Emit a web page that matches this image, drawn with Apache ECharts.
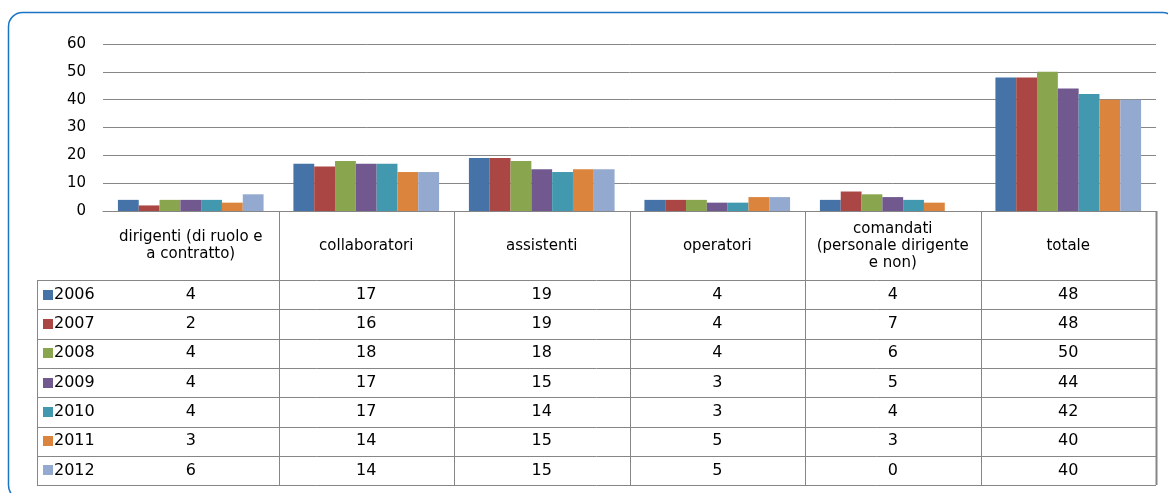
<!DOCTYPE html>
<html>
<head>
<meta charset="utf-8">
<script src="https://cdn.jsdelivr.net/npm/echarts@6/dist/echarts.min.js"></script>
<style>
html,body{margin:0;padding:0;background:#fff;}
#main{width:1168px;height:493px;}
</style>
</head>
<body>
<div id="main"></div>
<script>
// ---- data ----
var categories = ['dirigenti (di ruolo e a contratto)', 'collaboratori', 'assistenti', 'operatori', 'comandati (personale dirigente e non)', 'totale'];
var headerLabels = ['dirigenti (di ruolo e\na contratto)', 'collaboratori', 'assistenti', 'operatori', 'comandati\n(personale dirigente\ne non)', 'totale'];
var years = ['2006', '2007', '2008', '2009', '2010', '2011', '2012'];
var v2006 = [4, 17, 19, 4, 4, 48];
var v2007 = [2, 16, 19, 4, 7, 48];
var v2008 = [4, 18, 18, 4, 6, 50];
var v2009 = [4, 17, 15, 3, 5, 44];
var v2010 = [4, 17, 14, 3, 4, 42];
var v2011 = [3, 14, 15, 5, 3, 40];
var v2012 = [6, 14, 15, 5, 0, 40];
var yTicks = [0, 10, 20, 30, 40, 50, 60];

var seriesValues = [v2006, v2007, v2008, v2009, v2010, v2011, v2012];
var colors = ['#4572A7', '#AA4643', '#89A54E', '#71588F', '#4198AF', '#DB843D', '#93A9CF'];

var FONT = 'DejaVu Sans';
var chart = echarts.init(document.getElementById('main'), null, {renderer: 'canvas'});

var series = years.map(function (y, i) {
  return {
    name: y, type: 'bar', data: seriesValues[i],
    itemStyle: {color: colors[i]},
    barGap: '0%', barCategoryGap: '17%', animation: false
  };
});

chart.setOption({
  animation: false,
  grid: {left: 103, right: 12, top: 44, bottom: 282, containLabel: false},
  xAxis: {
    type: 'category', data: categories,
    axisLine: {lineStyle: {color: '#868686', width: 1}},
    axisTick: {show: false},
    axisLabel: {
      interval: 0, margin: 35, verticalAlign: 'middle',
      color: '#000', fontFamily: FONT, fontSize: 15, lineHeight: 17,
      formatter: function (v, idx) { return headerLabels[idx]; }
    }
  },
  yAxis: {
    type: 'value', min: yTicks[0], max: yTicks[yTicks.length - 1], interval: 10,
    axisLine: {show: false}, axisTick: {show: false},
    splitLine: {lineStyle: {color: '#868686', width: 1}},
    axisLabel: {color: '#000', fontFamily: FONT, fontSize: 15, margin: 17}
  },
  series: series
});

// ---- table built from the axis scale ----
var centers = categories.map(function (c) { return chart.convertToPixel({xAxisIndex: 0}, c); });
var band = centers[1] - centers[0];
var y0 = chart.convertToPixel({yAxisIndex: 0}, 0);
var headerH = 69;
var rowH = 29.3;
var tableTop = y0 + headerH;
var tableLeft = 37;
var leftEdge = centers[0] - band / 2;
var rightEdge = centers[centers.length - 1] + band / 2;
var tableBottom = tableTop + rowH * years.length;
var lineColor = '#868686';
var g = [];

// outer rounded border (right and bottom edges fall just outside the picture)
g.push({type: 'rect', shape: {x: 8.5, y: 12.5, width: 1168, height: 487, r: 14},
  style: {fill: null, stroke: '#1B75C4', lineWidth: 1.5}, silent: true, z: 0});

// horizontal lines
for (var r = 0; r <= years.length; r++) {
  var yy = Math.round(tableTop + r * rowH) + 0.5;
  g.push({type: 'line', shape: {x1: tableLeft, y1: yy, x2: rightEdge, y2: yy},
    style: {stroke: lineColor, lineWidth: 1}, silent: true});
}
// vertical lines: category boundaries
for (var c = 1; c <= categories.length; c++) {
  var xx = Math.round(leftEdge + c * band) + 0.5;
  g.push({type: 'line', shape: {x1: xx, y1: y0, x2: xx, y2: tableBottom},
    style: {stroke: lineColor, lineWidth: c === categories.length ? 2 : 1}, silent: true});
}
// table left border
g.push({type: 'line', shape: {x1: tableLeft + 0.5, y1: tableTop, x2: tableLeft + 0.5, y2: tableBottom},
  style: {stroke: lineColor, lineWidth: 1}, silent: true});

// legend keys + values
years.forEach(function (yr, i) {
  var cy = tableTop + rowH * i + rowH / 2;
  g.push({type: 'rect', shape: {x: tableLeft + 6, y: Math.round(cy) - 5, width: 10, height: 10},
    style: {fill: colors[i]}, silent: true});
  g.push({type: 'text', x: tableLeft + 17, y: cy,
    style: {text: yr, fill: '#000', font: '16px "' + FONT + '"', textVerticalAlign: 'middle', textAlign: 'left'}, silent: true});
  seriesValues[i].forEach(function (val, j) {
    g.push({type: 'text', x: centers[j], y: cy,
      style: {text: String(val), fill: '#000', font: '16px "' + FONT + '"', textVerticalAlign: 'middle', textAlign: 'center'}, silent: true});
  });
});

chart.setOption({graphic: {elements: g}});
</script>
</body>
</html>
